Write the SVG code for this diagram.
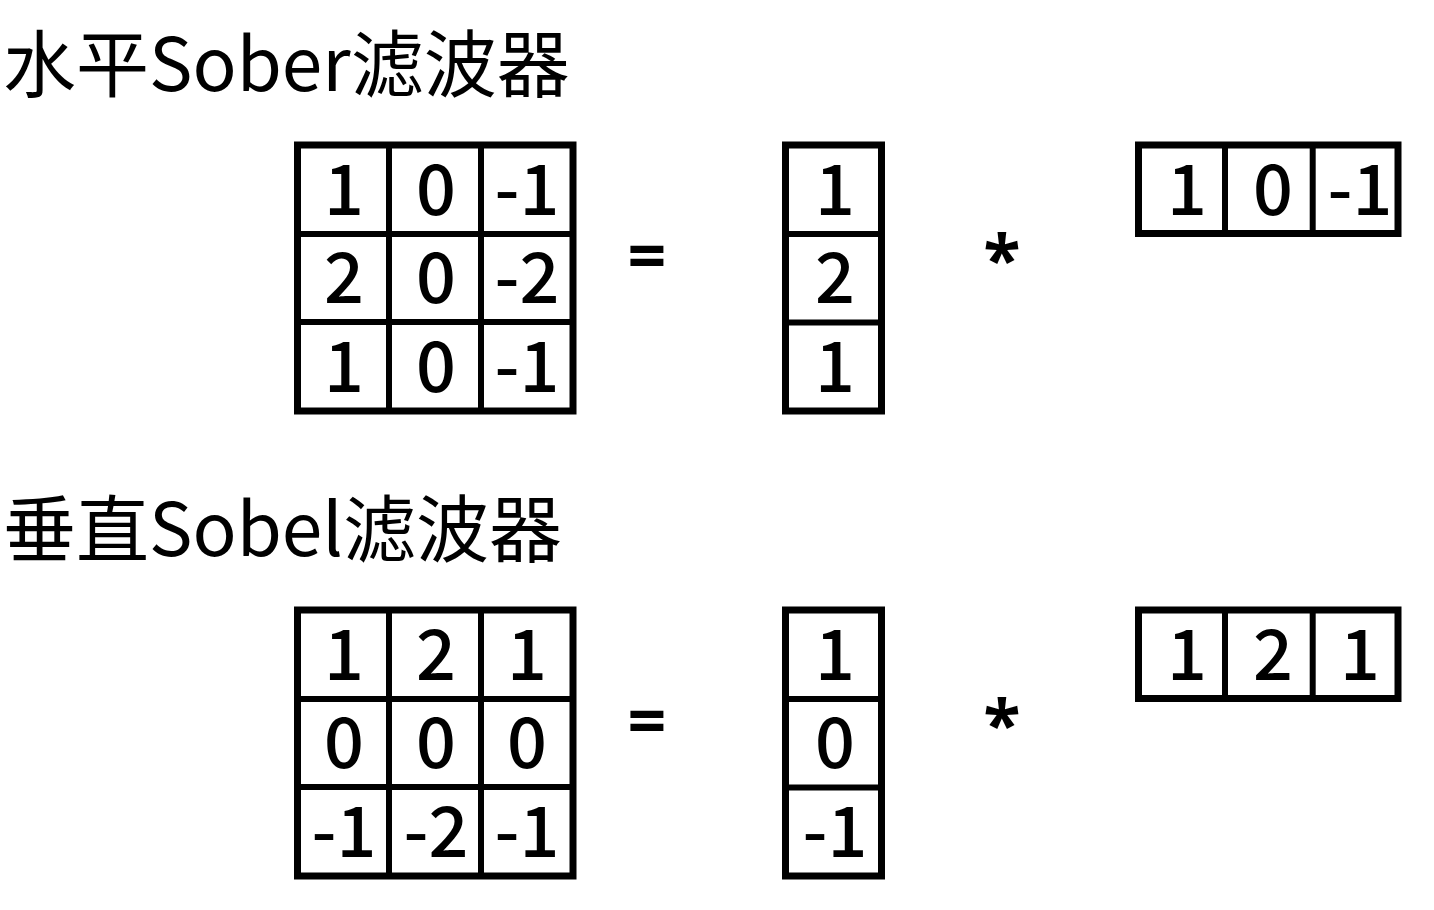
<svg xmlns="http://www.w3.org/2000/svg" width="1434" height="910" viewBox="0 0 1434 910">
<style>
.box{fill:none;stroke:#000;stroke-width:7}
.ln{stroke:#000;stroke-width:6}
.d{font-family:"Noto Sans CJK SC","Noto Sans",sans-serif;font-size:70px;font-weight:500;text-anchor:middle;fill:#000}
.op{font-family:"Noto Sans","Noto Sans CJK SC",sans-serif;font-size:68px;font-weight:700;text-anchor:middle;fill:#000}
.t{font-family:"Noto Sans CJK SC","Noto Sans",sans-serif;font-size:73px;fill:#000}
</style>
<rect width="1434" height="910" fill="#fff"/>
<g id="title1"><text class="t" x="3" y="91">水平Sober滤波器</text></g>
<g id="title2"><text class="t" x="3" y="556">垂直Sobel滤波器</text></g>

<g id="h-kernel">
<rect class="box" x="297.5" y="145" width="275.5" height="266"/>
<line class="ln" x1="389" y1="145" x2="389" y2="411"/>
<line class="ln" x1="481" y1="145" x2="481" y2="411"/>
<line class="ln" x1="297.5" y1="234" x2="573" y2="234"/>
<line class="ln" x1="297.5" y1="322" x2="573" y2="322"/>
<text class="d" x="344" y="215">1</text><text class="d" x="436" y="215">0</text><text class="d" x="527" y="215">-1</text>
<text class="d" x="344" y="303">2</text><text class="d" x="436" y="303">0</text><text class="d" x="527" y="303">-2</text>
<text class="d" x="344" y="392">1</text><text class="d" x="436" y="392">0</text><text class="d" x="527" y="392">-1</text>
</g>
<g id="h-eq"><text class="op" x="647" y="280">=</text></g>
<g id="h-col">
<rect class="box" x="785.5" y="145" width="96" height="266"/>
<line class="ln" x1="785.5" y1="234" x2="881.5" y2="234"/>
<line class="ln" x1="785.5" y1="322.5" x2="881.5" y2="322.5"/>
<text class="d" x="835" y="215">1</text>
<text class="d" x="835" y="303">2</text>
<text class="d" x="835" y="392">1</text>
</g>
<g id="h-star"><text class="op" x="1002" y="284">*</text></g>
<g id="h-row">
<rect class="box" x="1138.5" y="145" width="259.5" height="88.5"/>
<line class="ln" x1="1225" y1="145" x2="1225" y2="233.5"/>
<line class="ln" x1="1312.7" y1="145" x2="1312.7" y2="233.5"/>
<text class="d" x="1187" y="215">1</text><text class="d" x="1273" y="215">0</text><text class="d" x="1360" y="215">-1</text>
</g>

<g id="v-kernel">
<rect class="box" x="297.5" y="610" width="275.5" height="266"/>
<line class="ln" x1="389" y1="610" x2="389" y2="876"/>
<line class="ln" x1="481" y1="610" x2="481" y2="876"/>
<line class="ln" x1="297.5" y1="699" x2="573" y2="699"/>
<line class="ln" x1="297.5" y1="787" x2="573" y2="787"/>
<text class="d" x="344" y="680">1</text><text class="d" x="436" y="680">2</text><text class="d" x="527" y="680">1</text>
<text class="d" x="344" y="768">0</text><text class="d" x="436" y="768">0</text><text class="d" x="527" y="768">0</text>
<text class="d" x="344" y="857">-1</text><text class="d" x="436" y="857">-2</text><text class="d" x="527" y="857">-1</text>
</g>
<g id="v-eq"><text class="op" x="647" y="745">=</text></g>
<g id="v-col">
<rect class="box" x="785.5" y="610" width="96" height="266"/>
<line class="ln" x1="785.5" y1="699" x2="881.5" y2="699"/>
<line class="ln" x1="785.5" y1="787.5" x2="881.5" y2="787.5"/>
<text class="d" x="835" y="680">1</text>
<text class="d" x="835" y="768">0</text>
<text class="d" x="835" y="857">-1</text>
</g>
<g id="v-star"><text class="op" x="1002" y="749">*</text></g>
<g id="v-row">
<rect class="box" x="1138.5" y="610" width="259.5" height="88.5"/>
<line class="ln" x1="1225" y1="610" x2="1225" y2="698.5"/>
<line class="ln" x1="1312.7" y1="610" x2="1312.7" y2="698.5"/>
<text class="d" x="1187" y="680">1</text><text class="d" x="1273" y="680">2</text><text class="d" x="1360" y="680">1</text>
</g>
<g id="connectors"/>
</svg>
